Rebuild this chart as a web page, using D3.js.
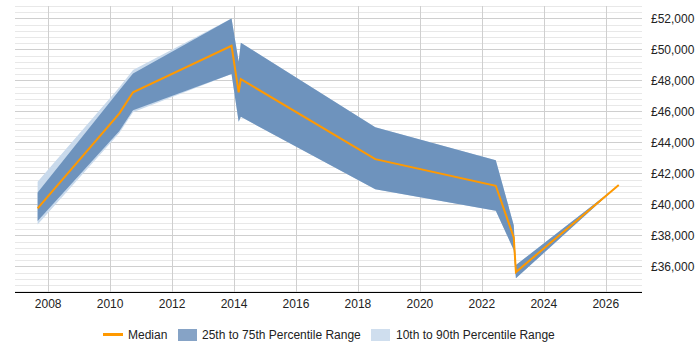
<!DOCTYPE html>
<html>
<head>
<meta charset="utf-8">
<script src="https://cdn.jsdelivr.net/npm/d3@7"></script>
<style>
  body { margin: 0; background: #fff; }
  svg { display: block; font-family: "Liberation Sans", Arial, sans-serif; }
</style>
</head>
<body>
<div id="chart"></div>
<script>
// Data
const years  = [2007.66, 2010.3, 2010.74, 2013.92, 2014.15, 2014.22, 2018.56, 2022.45, 2023.03, 2023.1, 2026.42];
const median = [39740, 45870, 47230, 50230, 47230, 48080, 42920, 41200, 37870, 35630, 41250];
const p25    = [38920, 44730, 46080, 48410, 45330, 45650, 40970, 39590, 37050, 35230, 41250];
const p75    = [40770, 47360, 48450, 52000, 49200, 50430, 44970, 42840, 38660, 36080, 41250];
const p10    = [38700, 44600, 45950, 48410, 45330, 45650, 40970, 39590, 37050, 35230, 41250];
const p90    = [41460, 47560, 48670, 52000, 49200, 50430, 44970, 42840, 38660, 36080, 41250];

const xTicks = [2008, 2010, 2012, 2014, 2016, 2018, 2020, 2022, 2024, 2026];
const yTicks = [36000, 38000, 40000, 42000, 44000, 46000, 48000, 50000, 52000];
const legendLabels = ['Median', '25th to 75th Percentile Range', '10th to 90th Percentile Range'];

//////////////////////////////////////////////////////////////////////
// Layout
//////////////////////////////////////////////////////////////////////
const W = 700, H = 350;
const plot = {left: 15, right: 642, top: 6, bottom: 292.7};

const svg = d3.select('#chart').append('svg')
    .attr('width', W)
    .attr('height', H);

const x = d3.scaleLinear()
    .domain([2006.93, 2027.17])
    .range([plot.left, plot.right]);

const y = d3.scaleLinear()
    .domain([34300, 52800])
    .range([plot.bottom, plot.top]);

// Minor horizontal grid every 400
const minor = d3.range(34400, 52801, 400).filter(v => v % 2000 !== 0);
svg.append('g').selectAll('line')
    .data(minor)
    .enter().append('line')
    .attr('x1', plot.left).attr('x2', plot.right)
    .attr('y1', d => Math.round(y(d)) + 0.5)
    .attr('y2', d => Math.round(y(d)) + 0.5)
    .attr('stroke', '#e8e8e8');

// Major horizontal grid
svg.append('g').selectAll('line')
    .data(yTicks)
    .enter().append('line')
    .attr('x1', plot.left).attr('x2', plot.right)
    .attr('y1', d => Math.round(y(d)) + 0.5)
    .attr('y2', d => Math.round(y(d)) + 0.5)
    .attr('stroke', '#cfcfcf');

// Vertical grid
svg.append('g').selectAll('line')
    .data(xTicks)
    .enter().append('line')
    .attr('x1', d => Math.round(x(d)) + 0.5)
    .attr('x2', d => Math.round(x(d)) + 0.5)
    .attr('y1', plot.top).attr('y2', plot.bottom)
    .attr('stroke', '#cfcfcf');

//////////////////////////////////////////////////////////////////////
// Bands and median line
//////////////////////////////////////////////////////////////////////
const idx = d3.range(years.length);

const outerArea = d3.area()
    .x(i => x(years[i]))
    .y0(i => y(p10[i]))
    .y1(i => y(p90[i]));

const innerArea = d3.area()
    .x(i => x(years[i]))
    .y0(i => y(p25[i]))
    .y1(i => y(p75[i]));

const medianLine = d3.line()
    .x(i => x(years[i]))
    .y(i => y(median[i]));

svg.append('path')
    .attr('d', outerArea(idx))
    .attr('fill', '#c9daec');

svg.append('path')
    .attr('d', innerArea(idx))
    .attr('fill', '#6e93bd');

svg.append('path')
    .attr('d', medianLine(idx))
    .attr('fill', 'none')
    .attr('stroke', '#ff9900')
    .attr('stroke-width', 2)
    .attr('stroke-linejoin', 'miter');

//////////////////////////////////////////////////////////////////////
// Axes
//////////////////////////////////////////////////////////////////////
svg.append('line')
    .attr('x1', plot.left).attr('x2', plot.right)
    .attr('y1', 292.5).attr('y2', 292.5)
    .attr('stroke', '#000')
    .attr('stroke-width', 1.2);

svg.append('g').selectAll('text')
    .data(xTicks)
    .enter().append('text')
    .attr('x', d => x(d))
    .attr('y', 308)
    .attr('text-anchor', 'middle')
    .attr('font-size', 12)
    .attr('fill', '#222')
    .text(d => d);

const fmt = d3.format(',');
svg.append('g').selectAll('text')
    .data(yTicks)
    .enter().append('text')
    .attr('x', 651)
    .attr('y', d => y(d) + 4.5)
    .attr('font-size', 12)
    .attr('fill', '#222')
    .text(d => '£' + fmt(d));

//////////////////////////////////////////////////////////////////////
// Legend
//////////////////////////////////////////////////////////////////////
const legend = svg.append('g');
legend.append('line')
    .attr('x1', 103).attr('x2', 123)
    .attr('y1', 334.5).attr('y2', 334.5)
    .attr('stroke', '#ff9900')
    .attr('stroke-width', 3);
legend.append('text')
    .attr('x', 128).attr('y', 339)
    .attr('font-size', 12).attr('fill', '#222')
    .text(legendLabels[0]);

legend.append('rect')
    .attr('x', 178).attr('y', 329)
    .attr('width', 19).attr('height', 12)
    .attr('fill', '#86a3c6');
legend.append('text')
    .attr('x', 202).attr('y', 339)
    .attr('font-size', 12).attr('fill', '#222')
    .text(legendLabels[1]);

legend.append('rect')
    .attr('x', 371).attr('y', 329)
    .attr('width', 19).attr('height', 12)
    .attr('fill', '#cfdeee');
legend.append('text')
    .attr('x', 396).attr('y', 339)
    .attr('font-size', 12).attr('fill', '#222')
    .text(legendLabels[2]);
</script>
</body>
</html>
